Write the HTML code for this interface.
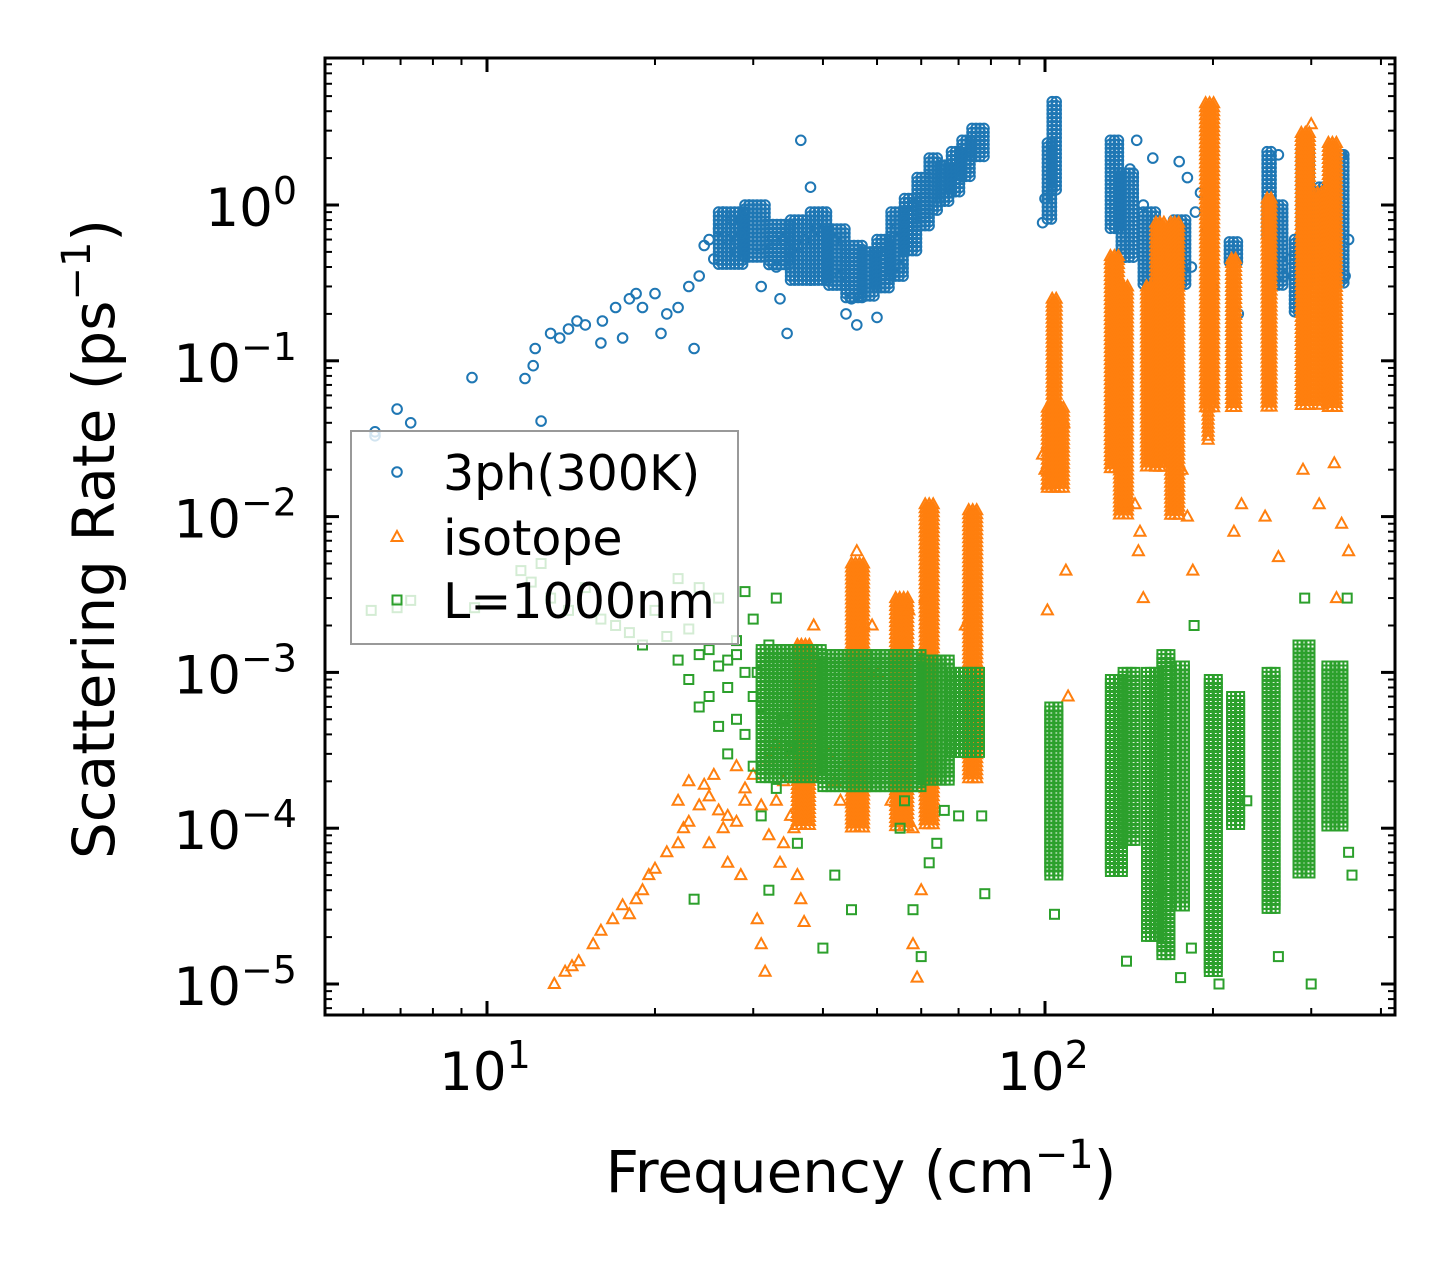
<!DOCTYPE html>
<html><head><meta charset="utf-8"><style>
body{margin:0;background:#fff;}
svg{display:block;font-family:"DejaVu Sans","Liberation Sans",sans-serif;}
</style></head><body>
<svg id="chart" width="1455" height="1265" viewBox="0 0 1455 1265" xmlns="http://www.w3.org/2000/svg">
<rect x="0" y="0" width="1455" height="1265" fill="#fff"/>
<g id="marks"></g>
<g id="axes"></g>
<text x="861" y="1192" font-size="58" text-anchor="middle">Frequency (cm<tspan dy="-24" font-size="40">−1</tspan><tspan dy="24">)</tspan></text>
<text transform="translate(114,539) rotate(-90)" font-size="58" text-anchor="middle">Scattering Rate (ps<tspan dy="-24" font-size="40">−1</tspan><tspan dy="24">)</tspan></text>
</svg>
<script>
// ---- data ----
const xTickValues = [10, 100];
const xTickLabels = ["10", "10"];
const xTickExps = ["1", "2"];
const yTickValues = [1, 0.1, 0.01, 0.001, 0.0001, 0.00001];
const yTickLabels = ["10", "10", "10", "10", "10", "10"];
const yTickExps = ["0", "\u22121", "\u22122", "\u22123", "\u22124", "\u22125"];
const legendLabels = ["3ph(300K)", "isotope", "L=1000nm"];

// scattered points [frequency, rate]
const phPoints = [[6.3,0.035],[6.3,0.033],[6.9,0.049],[7.3,0.04],[9.4,0.078],[11.7,0.077],[12.1,0.093],[12.2,0.12],[12.5,0.041],[13,0.15],[13.5,0.14],[14,0.16],[14.5,0.18],[15,0.17],[16.1,0.18],[16,0.13],[17,0.22],[17.5,0.14],[18,0.25],[18.5,0.27],[19,0.22],[20,0.27],[20.5,0.15],[21,0.2],[22,0.22],[23,0.3],[23.5,0.12],[24,0.35],[24.5,0.55],[25,0.6],[25.5,0.45],[26,0.7],[26.5,0.9],[27,0.6],[27.5,0.8],[28,0.5],[28.5,0.65],[29,0.9],[29.5,1.0],[30,0.7],[30.5,0.55],[31,0.3],[31.5,0.75],[32,0.5],[32.5,0.62],[33,0.4],[33.5,0.25],[34,0.6],[34.5,0.15],[35,0.45],[36,0.55],[36.5,2.6],[37,0.6],[38,1.3],[39,0.7],[40,0.9],[41,0.45],[42,0.6],[43,0.35],[44,0.2],[45,0.25],[46,0.17],[47,0.3],[48,0.45],[50,0.19],[52,0.5],[54,0.7],[55,0.4],[56,0.8],[58,1.0],[99,0.77],[100,1.1],[142,1.7],[146,2.6],[150,1.0],[156,2.0],[160,0.5],[174,1.9],[180,1.5],[183,0.4],[186,0.9],[190,1.2],[195,0.7],[200,0.3],[222,0.2],[262,2.1],[268,0.35],[275,0.45],[300,1.0],[305,0.5],[315,0.6],[340,2.1],[345,0.35],[350,0.6]];
const isoPoints = [[13.2,1.0e-5],[13.8,1.2e-5],[14.2,1.3e-5],[14.6,1.4e-5],[15.5,1.8e-5],[16,2.2e-5],[16.8,2.6e-5],[17.5,3.2e-5],[18,2.8e-5],[18.5,3.5e-5],[19,4e-5],[19.5,5e-5],[20,5.5e-5],[21,7e-5],[22,8e-5],[22.5,1.0e-4],[23,1.1e-4],[24,1.4e-4],[24.5,1.9e-4],[25,1.6e-4],[25.5,2.2e-4],[26,1.3e-4],[26.5,1.0e-4],[27,1.2e-4],[28,1.1e-4],[28.5,5e-5],[29,1.5e-4],[30,2.2e-4],[30.5,2.6e-5],[31,1.8e-5],[31.5,1.2e-5],[32,9e-5],[33,1.5e-4],[33.5,6e-5],[34,2e-4],[35,3e-4],[35.5,1e-4],[36,5e-5],[36.5,3.5e-5],[37,2.5e-5],[37.5,4e-4],[38,1.3e-3],[38.5,2e-3],[39,1e-3],[40,5e-4],[41,3e-4],[42,2e-4],[43,1.5e-4],[44,2.5e-4],[45,5e-4],[46,6e-3],[46.5,4e-3],[47,2e-3],[48,1e-3],[49,2e-3],[50,1e-3],[53,1.5e-4],[55,2.8e-3],[56,1.5e-3],[57,2.5e-3],[58,1e-4],[59,1.1e-5],[60,4e-5],[58,1.8e-5],[61,3e-3],[72,2e-3],[99,0.025],[100,0.02],[101,0.016],[108,0.04],[109,4.5e-3],[110,7e-4],[101,2.5e-3],[145,0.012],[147,6e-3],[150,3e-3],[148,0.008],[176,0.02],[180,0.01],[184,4.5e-3],[218,0.008],[225,0.012],[248,0.01],[262,0.0055],[333,0.003],[340,0.009],[350,0.006],[330,0.022],[300,3.3],[310,0.012],[290,0.02],[22,1.5e-4],[23,2e-4],[25,8e-5],[27,6e-5],[28,2.5e-4],[29,1.8e-4],[31,1.4e-4],[32,2.8e-4],[33,3.5e-4],[34,8e-5],[35,1.2e-4]];
const lenPoints = [[6.2,2.5e-3],[6.9,2.6e-3],[7.3,2.9e-3],[9.5,2.6e-3],[11.5,4.5e-3],[12,3.8e-3],[12.5,5e-3],[13,3e-3],[14,2.5e-3],[15,3.5e-3],[16,2.2e-3],[17,2e-3],[18,1.8e-3],[19,1.5e-3],[20,2.5e-3],[21,1.7e-3],[22,4e-3],[23,1.9e-3],[24,3.5e-3],[25,1.4e-3],[26,3e-3],[27,1.2e-3],[28,1.6e-3],[29,3.3e-3],[30,2.2e-3],[30.5,1e-3],[31,6e-4],[32,1.5e-3],[33,3e-3],[34,5e-4],[35,3.3e-4],[28,5e-4],[29,4e-4],[30,2.5e-4],[31,1.2e-4],[33,1.8e-4],[36,8e-5],[40,1.7e-5],[23.5,3.5e-5],[32,4e-5],[42,5e-5],[45,3e-5],[55,1e-4],[56,1.5e-4],[58,3e-5],[60,1.5e-5],[62,6e-5],[64,8e-5],[66,1.3e-4],[70,1.2e-4],[77,1.2e-4],[78,3.8e-5],[104,2.8e-5],[140,1.4e-5],[175,1.1e-5],[183,1.7e-5],[205,1e-5],[262,1.5e-5],[300,1e-5],[355,5e-5],[350,7e-5],[292,3e-3],[348,3e-3],[185,2e-3],[160,4e-5],[230,1.5e-4],[22,1.2e-3],[23,9e-4],[24,1.3e-3],[25,7e-4],[26,1.1e-3],[27,8e-4],[28,1.3e-3],[29,1e-3],[30,7e-4],[24,6e-4],[26,4.5e-4],[27,3e-4]];

// dense columns [freqStart, freqEnd, rateLow, rateHigh]
const phColumns = [[26,29,0.4,0.9],[29,32,0.45,1.0],[32,35,0.4,0.75],[35,38,0.32,0.8],[38,41,0.32,0.9],[41,44,0.3,0.7],[44,47,0.25,0.55],[47,50,0.25,0.5],[50,53,0.28,0.6],[53,56,0.33,0.9],[56,59,0.5,1.1],[59,62,0.7,1.5],[62,65,0.9,2.0],[65,68,1.0,1.8],[68,71,1.2,2.2],[71,74,1.5,2.6],[74,78,2.0,3.1],[101,103,0.8,2.5],[103,106,1.2,4.6],[131,137,0.7,2.6],[137,146,0.45,1.6],[150,160,0.3,0.9],[160,170,0.3,0.7],[170,180,0.3,0.8],[214,224,0.42,0.58],[250,258,0.6,2.2],[258,268,0.3,1.0],[280,288,0.2,0.6],[288,298,0.3,2.2],[310,322,0.4,1.3],[332,346,0.3,2.1]];
const isoColumns = [[36,38,1e-4,1.5e-3],[45,48,1e-4,5e-3],[54,57,1e-4,3e-3],[61,64,1e-4,1.2e-2],[73,76,2e-4,1.1e-2],[103,106,0.02,0.25],[101,108,0.015,0.05],[131,136,0.02,0.47],[136,142,0.01,0.3],[152,158,0.02,0.3],[158,164,0.02,0.77],[168,176,0.01,0.77],[194,201,0.05,4.5],[196,199,0.03,0.05],[216,222,0.05,0.45],[250,256,0.05,1.1],[288,298,0.05,2.9],[308,318,0.05,1.2],[322,335,0.05,2.5]];
const lenColumns = [[31,40,2e-4,1.4e-3],[40,50,1.8e-4,1.3e-3],[50,60,1.8e-4,1.3e-3],[60,68,2e-4,1.2e-3],[68,77,3e-4,1.0e-3],[102,106,5e-5,6e-4],[131,138,5e-5,9e-4],[138,146,8e-5,1.0e-3],[152,160,2e-5,1.0e-3],[162,170,1.5e-5,1.3e-3],[172,178,3e-5,1.1e-3],[197,204,1.2e-5,9e-4],[216,224,1e-4,7e-4],[250,260,3e-5,1.0e-3],[284,300,5e-5,1.5e-3],[320,346,1e-4,1.1e-3]];

// ---- scales ----
const PL=325, PR=1395, PT=58, PB=1015;
function xs(f){ return 487 + 558*(Math.log10(f)-1); }
function ys(r){ return 205 - 155.8*Math.log10(r); }
const NS="http://www.w3.org/2000/svg";
const marks=document.getElementById('marks');
const axes=document.getElementById('axes');
const colors={ph:"#1f77b4", iso:"#ff7f0e", len:"#2ca02c"};

function marker(kind,x,y,parent){
  let el;
  if(kind==='ph'){ el=document.createElementNS(NS,'circle'); el.setAttribute('cx',x.toFixed(1)); el.setAttribute('cy',y.toFixed(1)); el.setAttribute('r',4.8); }
  else if(kind==='iso'){ el=document.createElementNS(NS,'polygon'); el.setAttribute('points',`${x.toFixed(1)},${(y-6).toFixed(1)} ${(x+5.5).toFixed(1)},${(y+4).toFixed(1)} ${(x-5.5).toFixed(1)},${(y+4).toFixed(1)}`); }
  else { el=document.createElementNS(NS,'rect'); el.setAttribute('x',(x-4.5).toFixed(1)); el.setAttribute('y',(y-4.5).toFixed(1)); el.setAttribute('width',9); el.setAttribute('height',9); }
  el.setAttribute('fill','none'); el.setAttribute('stroke',colors[kind]); el.setAttribute('stroke-width',2);
  parent.appendChild(el);
  return el;
}
function series(kind, pts, cols, name){
  const g=document.createElementNS(NS,'g');
  
  
  marks.appendChild(g);
  cols.forEach(c=>{
    const x0=xs(c[0]), x1=xs(c[1]), y0=ys(c[3]), y1=ys(c[2]);
    for(let y=y0;y<=y1;y+=4){ for(let x=x0;x<=x1+0.1;x+=4){ const m=marker(kind,x,y,g);
      
       } }
  });
  pts.forEach(p=>{ const m=marker(kind,xs(p[0]),ys(p[1]),g);
    
     });
}
series('ph', phPoints, phColumns, 'series-3ph');
series('iso', isoPoints, isoColumns, 'series-isotope');
series('len', lenPoints, lenColumns, 'series-boundary');

// ---- legend ----
const lg=document.createElementNS(NS,'g');


axes.appendChild(lg);
const lbox=document.createElementNS(NS,'rect');
lbox.setAttribute('x',351); lbox.setAttribute('y',431); lbox.setAttribute('width',387); lbox.setAttribute('height',213);
lbox.setAttribute('fill','rgba(255,255,255,0.8)'); lbox.setAttribute('stroke','#999'); lbox.setAttribute('stroke-width',2);


lg.appendChild(lbox);
['ph','iso','len'].forEach((k,i)=>{
  const yy=[472,537,600][i];
  const m=marker(k,397,yy,lg);
  
  
  const t=document.createElementNS(NS,'text');
  t.setAttribute('x',443); t.setAttribute('y',yy+18); t.setAttribute('font-size',49);
  t.textContent=legendLabels[i];
  
  
  lg.appendChild(t);
});

// ---- axes frame & ticks ----
function line(x1,y1,x2,y2,w){ const l=document.createElementNS(NS,'line'); l.setAttribute('x1',x1); l.setAttribute('y1',y1); l.setAttribute('x2',x2); l.setAttribute('y2',y2); l.setAttribute('stroke','#000'); l.setAttribute('stroke-width',w); axes.appendChild(l); return l; }
const frame=document.createElementNS(NS,'rect');
frame.setAttribute('x',PL); frame.setAttribute('y',PT); frame.setAttribute('width',PR-PL); frame.setAttribute('height',PB-PT);
frame.setAttribute('fill','none'); frame.setAttribute('stroke','#000'); frame.setAttribute('stroke-width',3);


axes.appendChild(frame);
for(let d=0; d<=2; d++){ for(let k=1;k<=9;k++){ const f=k*Math.pow(10,d); const x=xs(f); if(x<PL||x>PR) continue;
  const len=k===1?14:7, w=k===1?3:2;
  const a=line(x,PB,x,PB-len,w);  
  const b=line(x,PT,x,PT+len,w);   } }
for(let d=-6; d<=0; d++){ for(let k=1;k<=9;k++){ const r=k*Math.pow(10,d); const y=ys(r); if(y<PT||y>PB) continue;
  const len=k===1?14:7, w=k===1?3:2;
  const a=line(PL,y,PL+len,y,w);  
  const b=line(PR,y,PR-len,y,w);   } }
function tickLabel(x,y,base,exp,anchor,name){
  const t=document.createElementNS(NS,'text');
  t.setAttribute('x',x); t.setAttribute('y',y); t.setAttribute('font-size',53); t.setAttribute('text-anchor',anchor);
  
  
  const s1=document.createElementNS(NS,'tspan'); s1.textContent=base; t.appendChild(s1);
  const s2=document.createElementNS(NS,'tspan'); s2.setAttribute('dy',-22); s2.setAttribute('font-size',38); s2.textContent=exp; t.appendChild(s2);
  axes.appendChild(t);
}
xTickValues.forEach((v,i)=>tickLabel(xs(v)-2, 1090, xTickLabels[i], xTickExps[i], 'middle', 'x-tick-label'));
yTickValues.forEach((v,i)=>tickLabel(297, ys(v)+21, yTickLabels[i], yTickExps[i], 'end', 'y-tick-label'));
</script>
</body></html>
